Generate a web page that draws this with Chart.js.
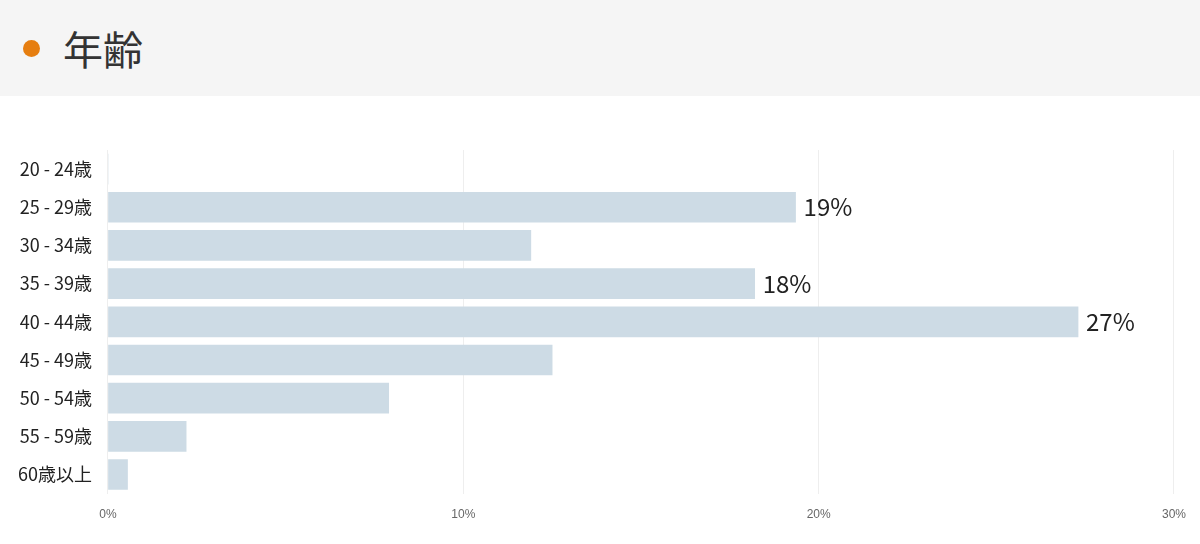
<!DOCTYPE html>
<html>
<head>
<meta charset="utf-8">
<script src="https://cdn.jsdelivr.net/npm/chart.js@4"></script>
<style>
body{margin:0;width:1200px;height:544px;overflow:hidden;background:#fff;font-family:"Noto Sans CJK JP","Noto Sans",sans-serif;}
#head{height:96px;background:#f5f5f5;position:relative;}
#dot{position:absolute;left:23px;top:40px;width:17px;height:17px;border-radius:50%;background:#e67e10;}
#title{position:absolute;left:63px;top:18px;font-size:40px;color:#333;line-height:60px;}
#wrap{position:absolute;left:0;top:96px;width:1200px;height:448px;}
</style>
</head>
<body>
<div id="head"><div id="dot"></div><div id="title">年齢</div></div>
<div id="wrap"><canvas id="age-chart"></canvas></div>
<script>
var categories = ["20 - 24歳","25 - 29歳","30 - 34歳","35 - 39歳","40 - 44歳","45 - 49歳","50 - 54歳","55 - 59歳","60歳以上"];
var values = [0, 19.35, 11.9, 18.2, 27.3, 12.5, 7.9, 2.2, 0.55];
var shownLabels = ["", "19%", "", "18%", "27%", "", "", "", ""];
var xTicks = [0, 10, 20, 30];

var valueLabels = {
  id: "valueLabels",
  afterDatasetsDraw: function(chart){
    var ctx = chart.ctx;
    var meta = chart.getDatasetMeta(0);
    ctx.save();
    ctx.font = "24px 'Noto Sans CJK JP', sans-serif";
    ctx.fillStyle = "#222";
    ctx.textBaseline = "middle";
    meta.data.forEach(function(bar, i){
      if (shownLabels[i]) ctx.fillText(shownLabels[i], bar.x + 8, bar.y);
    });
    ctx.restore();
  }
};

new Chart(document.getElementById("age-chart"), {
  type: "bar",
  data: {
    labels: categories,
    datasets: [{ data: values, backgroundColor: "#cddbe5", barThickness: 30 }]
  },
  options: {
    indexAxis: "y",
    responsive: true,
    maintainAspectRatio: false,
    animation: false,
    layout: { padding: { top: 54, right: 24, left: 10, bottom: 8 } },
    plugins: { legend: { display: false }, tooltip: { enabled: false } },
    scales: {
      x: {
        min: 0, max: 30,
        afterBuildTicks: function(axis){ axis.ticks = xTicks.map(function(v){ return { value: v }; }); },
        ticks: { callback: function(v){ return v + "%"; }, color: "#666", font: { size: 12 }, padding: 14 },
        grid: { color: "#eeeeee", drawTicks: false },
        border: { display: false }
      },
      y: {
        ticks: { color: "#222", font: { size: 18, family: "'Noto Sans CJK JP', sans-serif" }, padding: 8 },
        grid: { display: false },
        border: { color: "#eeeeee" }
      }
    }
  },
  plugins: [valueLabels]
});
</script>
</body>
</html>
